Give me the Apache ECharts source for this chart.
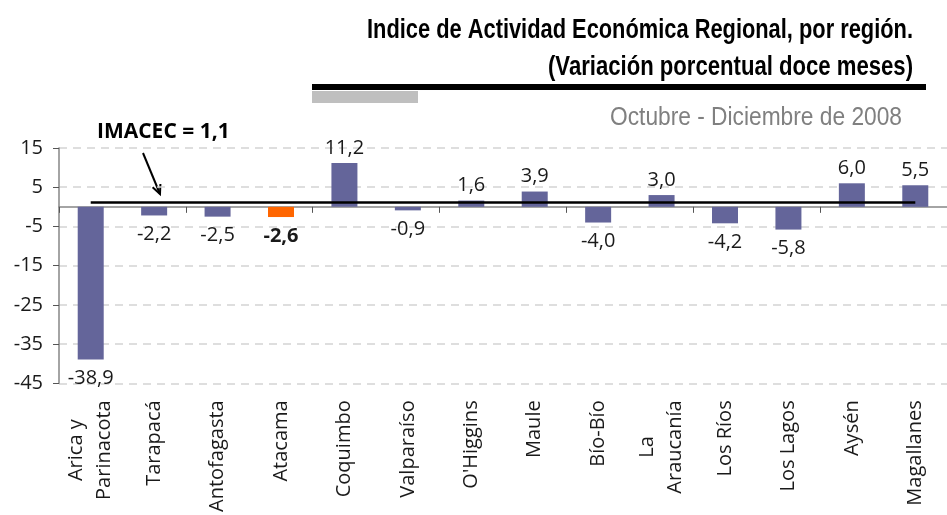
<!DOCTYPE html>
<html>
<head>
<meta charset="utf-8">
<script src="https://cdn.jsdelivr.net/npm/echarts@6/dist/echarts.min.js"></script>
<style>
html,body{margin:0;padding:0;background:#fff;}
#chart{width:947px;height:515px;}
</style>
</head>
<body>
<div id="chart"></div>
<script>
// ---- data ----
const categories = ['Arica y\nParinacota', 'Tarapacá', 'Antofagasta', 'Atacama', 'Coquimbo', 'Valparaíso', "O'Higgins", 'Maule', 'Bío-Bío', 'La\nAraucanía', 'Los Ríos', 'Los Lagos', 'Aysén', 'Magallanes'];
const values = [-38.9, -2.2, -2.5, -2.6, 11.2, -0.9, 1.6, 3.9, -4.0, 3.0, -4.2, -5.8, 6.0, 5.5];
const highlighted = 'Atacama';
const imacec = 1.1;
const yTicks = { min: -45, max: 15, interval: 10 };
const titleLines = ['Indice de Actividad Económica Regional, por región.', '(Variación porcentual doce meses)'];
const subtitle = 'Octubre - Diciembre de 2008';
const imacecLabel = 'IMACEC = 1,1';

const BLUE = '#64659A';
const ORANGE = '#FF6600';
const FONT = '"Open Sans", "DejaVu Sans", sans-serif';
const NARROW = '"Liberation Sans", Arial, sans-serif';
const fmt = v => v.toFixed(1).replace('.', ',');

// condensed-look text: measure and squeeze horizontally to a target width
const mctx = document.createElement('canvas').getContext('2d');
function squeezed(text, font, right, y, targetWidth, fill) {
  mctx.font = font;
  const w = mctx.measureText(text).width;
  return {
    type: 'text', x: right, y: y, scaleX: targetWidth / w,
    style: { text: text, font: font, fill: fill, textAlign: 'right', textVerticalAlign: 'middle' }
  };
}

const barData = values.map((v, i) => {
  const hl = categories[i] === highlighted;
  return {
    value: v,
    itemStyle: { color: hl ? ORANGE : BLUE },
    label: {
      position: v < 0 ? 'bottom' : 'top',
      distance: v < 0 ? 9 : 5,
      fontWeight: hl ? 'bold' : 'normal'
    }
  };
});

const chart = echarts.init(document.getElementById('chart'), null, { renderer: 'canvas' });
chart.setOption({
  animation: false,
  backgroundColor: '#fff',
  grid: { left: 59, right: -8, top: 148, bottom: 131, containLabel: false },
  xAxis: [
    {
      type: 'category',
      data: categories,
      position: 'top',
      axisLine: { onZero: true, lineStyle: { color: '#868686', width: 1.5 } },
      axisTick: { show: true, inside: true, length: 6, lineStyle: { color: '#555' } },
      axisLabel: { show: false },
      splitLine: { show: false }
    },
    {
      type: 'category',
      data: categories,
      position: 'bottom',
      axisLine: { show: false, onZero: false },
      axisTick: { show: false },
      axisLabel: {
        rotate: 90,
        margin: 17,
        interval: 0,
        color: '#1a1a1a',
        fontFamily: FONT,
        fontSize: 20,
        lineHeight: 28,
        formatter: v => v.split('\n').map(s => '{c|' + s + '}').join('\n'),
        rich: { c: { align: 'center', fontFamily: FONT, fontSize: 20, lineHeight: 28, color: '#1a1a1a' } }
      }
    }
  ],
  yAxis: {
    type: 'value',
    min: yTicks.min,
    max: yTicks.max,
    interval: yTicks.interval,
    axisLine: { show: true, lineStyle: { color: '#868686', width: 1.5 } },
    axisTick: { show: true, length: 6, lineStyle: { color: '#555' } },
    axisLabel: { color: '#1a1a1a', fontFamily: FONT, fontSize: 20, margin: 16 },
    splitLine: { show: true, lineStyle: { color: '#d4d4d4', type: [8, 6], width: 1.5 } }
  },
  series: [{
    type: 'bar',
    xAxisIndex: 0,
    data: barData,
    barWidth: 26,
    label: {
      show: true,
      color: '#1a1a1a',
      fontFamily: FONT,
      fontSize: 20,
      formatter: p => fmt(p.value)
    },
    markLine: {
      silent: true,
      symbol: 'none',
      label: { show: false },
      lineStyle: { color: '#000', width: 2.5, type: 'solid' },
      data: [[{ coord: [categories[0], imacec] }, { coord: [categories[categories.length - 1], imacec] }]]
    }
  }],
  graphic: [
    squeezed(titleLines[0], 'bold 27px ' + NARROW, 913, 31, 546, '#000'),
    squeezed(titleLines[1], 'bold 27px ' + NARROW, 913, 68, 365, '#000'),
    { type: 'rect', shape: { x: 312, y: 84, width: 614, height: 6 }, style: { fill: '#000' } },
    { type: 'rect', shape: { x: 312, y: 91, width: 106, height: 12 }, style: { fill: '#bfbfbf' } },
    squeezed(subtitle, '26px ' + NARROW, 902, 118, 292, '#808080'),
    { type: 'text', x: 97, y: 132, style: { text: imacecLabel, textAlign: 'left', textVerticalAlign: 'middle', font: 'bold 21px ' + FONT, fill: '#000' } },
    { type: 'line', shape: { x1: 143, y1: 153, x2: 160, y2: 194 }, style: { stroke: '#000', lineWidth: 2 } },
    { type: 'polyline', shape: { points: [[160.4, 184], [160, 194], [152.6, 187.3]] }, style: { stroke: '#000', lineWidth: 2, fill: null } }
  ]
});
</script>
</body>
</html>
